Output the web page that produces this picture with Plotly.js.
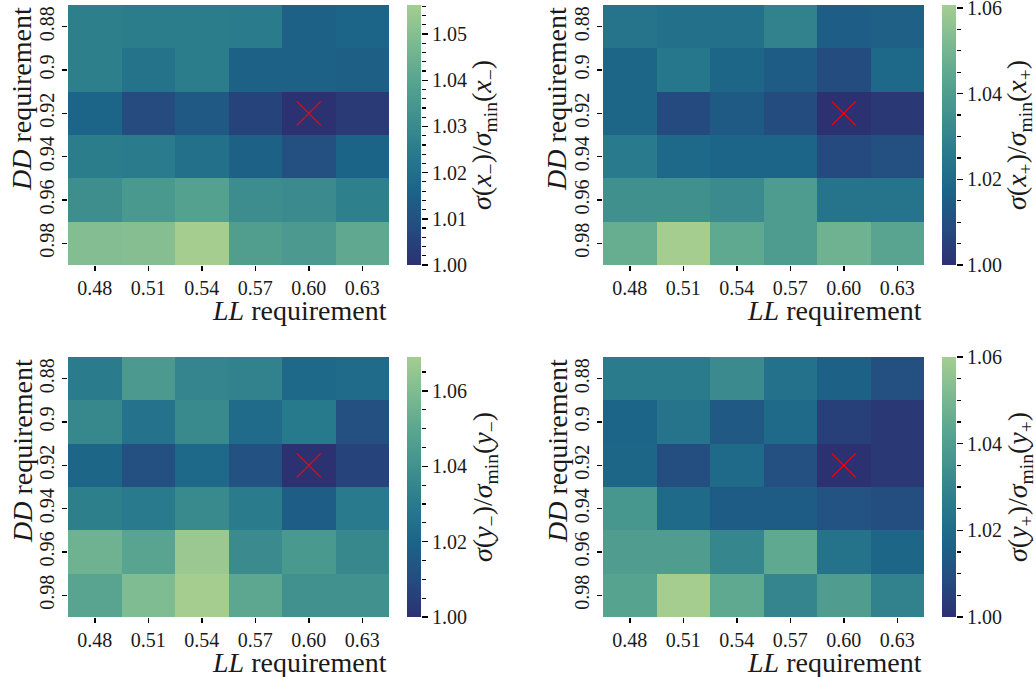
<!DOCTYPE html>
<html>
<head>
<meta charset="utf-8">
<script src="https://cdn.plot.ly/plotly-3.0.1.min.js"></script>
<style>html,body{margin:0;padding:0;background:#fff;}#chart{width:1036px;height:677px;}</style>
</head>
<body>
<div id="chart"></div>
<script>
const llCats = ['0.48','0.51','0.54','0.57','0.60','0.63'];
const ddCats = ['0.88','0.9','0.92','0.94','0.96','0.98'];

// rows: DD 0.88 .. 0.98 ; columns: LL 0.48 .. 0.63
const xMinus = [
  [1.0259,1.0253,1.0253,1.0248,1.0152,1.0163],
  [1.0259,1.0214,1.0253,1.0152,1.0152,1.0146],
  [1.0163,1.0079,1.0124,1.0056,1.0000,1.0028],
  [1.0253,1.0248,1.0203,1.0152,1.0096,1.0158],
  [1.0315,1.0355,1.0388,1.0310,1.0304,1.0265],
  [1.0495,1.0501,1.0563,1.0377,1.0360,1.0417]
];
const xPlus = [
  [1.0237,1.0219,1.0219,1.0291,1.0152,1.0158],
  [1.0182,1.0249,1.0182,1.0146,1.0091,1.0188],
  [1.0182,1.0085,1.0140,1.0091,1.0000,1.0024],
  [1.0261,1.0188,1.0176,1.0176,1.0085,1.0103],
  [1.0346,1.0346,1.0328,1.0395,1.0237,1.0237],
  [1.0467,1.0607,1.0449,1.0395,1.0486,1.0431]
];
const yMinus = [
  [1.0304,1.0442,1.0345,1.0331,1.0214,1.0228],
  [1.0359,1.0262,1.0366,1.0228,1.0290,1.0117],
  [1.0207,1.0117,1.0214,1.0124,1.0000,1.0069],
  [1.0317,1.0297,1.0366,1.0304,1.0173,1.0297],
  [1.0552,1.0490,1.0662,1.0373,1.0435,1.0359],
  [1.0490,1.0600,1.0690,1.0504,1.0400,1.0400]
];
const yPlus = [
  [1.0264,1.0264,1.0324,1.0222,1.0162,1.0102],
  [1.0174,1.0234,1.0132,1.0192,1.0048,1.0024],
  [1.0180,1.0096,1.0192,1.0102,1.0000,1.0024],
  [1.0372,1.0192,1.0144,1.0144,1.0114,1.0096],
  [1.0396,1.0396,1.0306,1.0444,1.0228,1.0180],
  [1.0420,1.0600,1.0444,1.0300,1.0396,1.0288]
];
const bestLL = ['0.60'];
const bestDD = ['0.92'];

const cbTitles = [
  '<i>σ</i>(<i>x</i><sub>−</sub>)/<i>σ</i><sub>min</sub>(<i>x</i><sub>−</sub>)',
  '<i>σ</i>(<i>x</i><sub>+</sub>)/<i>σ</i><sub>min</sub>(<i>x</i><sub>+</sub>)',
  '<i>σ</i>(<i>y</i><sub>−</sub>)/<i>σ</i><sub>min</sub>(<i>y</i><sub>−</sub>)',
  '<i>σ</i>(<i>y</i><sub>+</sub>)/<i>σ</i><sub>min</sub>(<i>y</i><sub>+</sub>)'
];
const panels = [xMinus, xPlus, yMinus, yPlus];
const majorStep = [0.01, 0.02, 0.02, 0.02];
const minorStep = [0.002, 0.005, 0.005, 0.005];

// crest (reversed: low = dark)
const crestR = [
  [0, '#2c3172'], [1/7, '#254b7f'], [2/7, '#1c6488'], [3/7, '#287a8c'],
  [4/7, '#40908e'], [5/7, '#59a590'], [6/7, '#7dba91'], [1, '#a5cd90']
];

const W = 1036, H = 677;
const FONT = 'Liberation Serif';
const TXT = '#1a1a1a';
const TICK = 20, LABEL = 28;
// pixel boxes of the four heatmaps
const boxes = [
  {l: 68,  r: 389, t: 5,   b: 265},
  {l: 603, r: 924, t: 5,   b: 265},
  {l: 68,  r: 389, t: 357, b: 617},
  {l: 603, r: 924, t: 357, b: 617}
];

const data = [];
const layout = {
  width: W, height: H,
  margin: {l: 0, r: 0, t: 0, b: 0},
  paper_bgcolor: '#fff', plot_bgcolor: '#fff',
  showlegend: false,
  font: {family: FONT, size: TICK, color: TXT},
  annotations: []
};

panels.forEach((z, i) => {
  const bx = boxes[i];
  const n = i + 1, m = i + 5;
  const xa = n === 1 ? 'x' : 'x' + n;
  const ya = n === 1 ? 'y' : 'y' + n;
  const xkey = n === 1 ? 'xaxis' : 'xaxis' + n;
  const ykey = n === 1 ? 'yaxis' : 'yaxis' + n;
  const zmax = Math.max(...z.flat());
  const zmin = Math.min(...z.flat());
  const cbL = bx.r + 18, cbW = 14;
  const cbY = 1 - ((bx.t + bx.b) / 2) / H;

  data.push({
    type: 'heatmap', x: llCats, y: ddCats, z: z,
    xaxis: xa, yaxis: ya,
    zmin: zmin, zmax: zmax, colorscale: crestR,
    colorbar: {
      x: cbL / W, xanchor: 'left', y: cbY, yanchor: 'middle',
      thickness: cbW, thicknessmode: 'pixels', len: bx.b - bx.t, lenmode: 'pixels',
      xpad: 0, ypad: 0, outlinewidth: 0, ticks: '', showticklabels: false
    }
  });
  data.push({
    type: 'scatter', x: bestLL, y: bestDD, xaxis: xa, yaxis: ya,
    mode: 'markers', hoverinfo: 'skip',
    marker: {symbol: 'x-thin-open', size: 24, color: '#ff0000', line: {color: '#ff0000', width: 1.2}}
  });
  // empty trace to carry the colorbar scale axis
  data.push({
    type: 'scatter', x: [null], y: [null], xaxis: 'x' + m, yaxis: 'y' + m,
    mode: 'markers', hoverinfo: 'skip', showlegend: false
  });

  layout[xkey] = {
    domain: [bx.l / W, bx.r / W], anchor: ya,
    type: 'category', categoryorder: 'array', categoryarray: llCats,
    range: [-0.5, 5.5], showgrid: false, zeroline: false, showline: false,
    ticks: 'outside', ticklen: 5, tickwidth: 1.5, tickcolor: '#000',
    tickfont: {family: FONT, size: TICK, color: TXT}
  };
  layout[ykey] = {
    domain: [1 - bx.b / H, 1 - bx.t / H], anchor: xa,
    type: 'category', categoryorder: 'array', categoryarray: ddCats,
    range: [5.5, -0.5], showgrid: false, zeroline: false, showline: false,
    ticks: 'outside', ticklen: 5, tickwidth: 1.5, tickcolor: '#000',
    tickangle: -90,
    tickfont: {family: FONT, size: TICK, color: TXT}
  };
  // scale axis alongside the colorbar
  layout['xaxis' + m] = {
    domain: [cbL / W, (cbL + cbW) / W], anchor: 'y' + m, visible: false,
    range: [0, 1], fixedrange: true
  };
  layout['yaxis' + m] = {
    domain: [1 - bx.b / H, 1 - bx.t / H], anchor: 'x' + m, side: 'right',
    range: [zmin, zmax], showgrid: false, zeroline: false, showline: false,
    tickmode: 'linear', tick0: 1.0, dtick: majorStep[i], tickformat: '.2f',
    ticklabeloverflow: 'allow',
    ticks: 'outside', ticklen: 6, tickwidth: 1.5, tickcolor: '#000',
    minor: {tickmode: 'linear', tick0: 1.0, dtick: minorStep[i], ticks: 'outside', ticklen: 3.5, tickwidth: 1.2, tickcolor: '#000', showgrid: false},
    tickfont: {family: FONT, size: TICK, color: TXT}
  };

  // x label (right aligned)
  layout.annotations.push({
    xref: 'paper', yref: 'paper', x: bx.r / W, y: 1 - (bx.b + 45) / H,
    xanchor: 'right', yanchor: 'middle', showarrow: false,
    text: '<i>LL</i> requirement', font: {family: FONT, size: LABEL, color: TXT}
  });
  // y label (top aligned)
  layout.annotations.push({
    xref: 'paper', yref: 'paper', x: (bx.l - 46) / W, y: 1 - bx.t / H,
    xanchor: 'center', yanchor: 'top', textangle: -90, showarrow: false,
    text: '<i>DD</i> requirement', font: {family: FONT, size: LABEL, color: TXT}
  });
  // colorbar title
  layout.annotations.push({
    xref: 'paper', yref: 'paper', x: (bx.r + 95) / W, y: cbY,
    xanchor: 'center', yanchor: 'middle', textangle: -90, showarrow: false,
    text: cbTitles[i], font: {family: FONT, size: LABEL, color: TXT}
  });
});

Plotly.newPlot('chart', data, layout, {displayModeBar: false, staticPlot: true});
</script>
</body>
</html>
